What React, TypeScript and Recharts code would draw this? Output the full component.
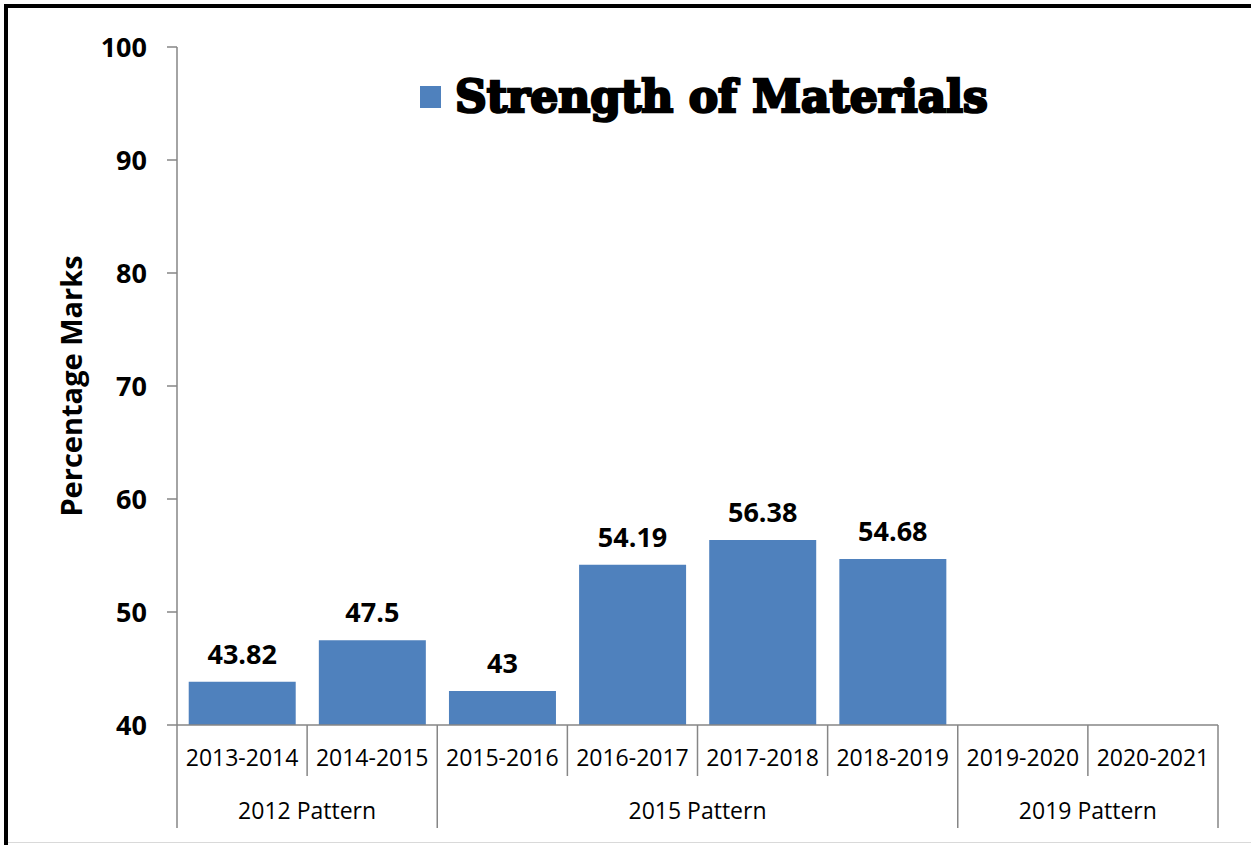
import React from "react";
import { Bar, BarChart, LabelList, Label, XAxis, YAxis } from "recharts";

const years = [
  "2013-2014",
  "2014-2015",
  "2015-2016",
  "2016-2017",
  "2017-2018",
  "2018-2019",
  "2019-2020",
  "2020-2021",
];
const marks: (number | null)[] = [43.82, 47.5, 43, 54.19, 56.38, 54.68, null, null];
const patterns = ["2012 Pattern", "2015 Pattern", "2019 Pattern"];
const patternSpans = [2, 4, 2];
const yTicks = [40, 50, 60, 70, 80, 90, 100];
const seriesName = "Strength of Materials";

const data = years.map((year, i) => ({ year, marks: marks[i] }));

const W = 1251;
const H = 845;
const PLOT_LEFT = 177;
const PLOT_RIGHT = 1218;
const PLOT_TOP = 47;
const PLOT_BOTTOM = 725;
const BAND = (PLOT_RIGHT - PLOT_LEFT) / years.length;
const AXIS = "#868686";
const BLUE = "#4F81BD";
const FONT = "'Open Sans', 'Noto Sans', sans-serif";

// index of first category in each pattern group
const groupStarts = patternSpans.map((_, g) =>
  patternSpans.slice(0, g).reduce((a, b) => a + b, 0)
);

function YearTick(props: any) {
  const { x, y, payload, index } = props;
  const left = x - BAND / 2;
  const g = groupStarts.indexOf(index);
  const isLast = index === years.length - 1;
  return (
    <g>
      <text x={x} y={y + 41} textAnchor="middle" fontSize={23} fill="#000" fontFamily={FONT}>
        {payload.value}
      </text>
      <line x1={left} x2={left} y1={y} y2={y + (g >= 0 ? 103 : 51)} stroke={AXIS} strokeWidth={1.5} />
      {isLast && (
        <line x1={left + BAND} x2={left + BAND} y1={y} y2={y + 103} stroke={AXIS} strokeWidth={1.5} />
      )}
      {g >= 0 && (
        <text
          x={left + (patternSpans[g] * BAND) / 2}
          y={y + 94}
          textAnchor="middle"
          fontSize={23}
          fill="#000"
          fontFamily={FONT}
        >
          {patterns[g]}
        </text>
      )}
    </g>
  );
}

export default function App() {
  return (
    <div style={{ position: "absolute", left: 0, top: 0, width: W, height: H, background: "#fff" }}>
      <div style={{ position: "absolute", left: 4, top: 4, right: 0, height: 4, background: "#000" }} />
      <div style={{ position: "absolute", left: 4, top: 4, width: 4, bottom: 0, background: "#000" }} />
      <div style={{ position: "absolute", left: 8, right: 0, top: 842, height: 1, background: "#d9d9d9" }} />
      <BarChart
        width={W}
        height={H}
        data={data}
        margin={{ top: PLOT_TOP, right: W - PLOT_RIGHT, bottom: 0, left: 0 }}
        barCategoryGap="9%"
      >
        <XAxis
          dataKey="year"
          height={H - PLOT_BOTTOM}
          interval={0}
          tickLine={false}
          tickSize={0}
          tickMargin={0}
          axisLine={{ stroke: AXIS, strokeWidth: 1.5 }}
          tick={<YearTick />}
        />
        <YAxis
          width={PLOT_LEFT}
          domain={[40, 100]}
          ticks={yTicks}
          allowDataOverflow
          tickSize={10}
          tickMargin={20}
          axisLine={{ stroke: AXIS, strokeWidth: 1.5 }}
          tickLine={{ stroke: AXIS, strokeWidth: 1.5 }}
          tick={{ fontSize: 27, fontWeight: 700, fill: "#000", fontFamily: FONT }}
        >
          <Label
            content={(p: any) => {
              const vb = p.viewBox;
              const cx = 70;
              const cy = vb.y + vb.height / 2;
              return (
                <text
                  x={cx}
                  y={cy}
                  transform={`rotate(-90, ${cx}, ${cy})`}
                  textAnchor="middle"
                  dominantBaseline="central"
                  fontSize={29}
                  fontWeight={700}
                  fontFamily={FONT}
                  fill="#000"
                >
                  Percentage Marks
                </text>
              );
            }}
          />
        </YAxis>
        <Bar dataKey="marks" name={seriesName} fill={BLUE} isAnimationActive={false}>
          <LabelList
            dataKey="marks"
            position="top"
            offset={18}
            fontSize={27}
            fontWeight={700}
            fill="#000"
            fontFamily={FONT}
          />
        </Bar>
      </BarChart>
      <div style={{ position: "absolute", left: 420, top: 72, display: "flex", alignItems: "center" }}>
        <span style={{ width: 21, height: 22, background: BLUE, display: "inline-block", marginRight: 14 }} />
        <span
          style={{
            fontFamily: "'DejaVu Serif', serif",
            fontWeight: 900,
            fontSize: 44,
            color: "#000",
            WebkitTextStroke: "2.5px #000",
            letterSpacing: 0,
            lineHeight: "50px",
            whiteSpace: "nowrap",
          }}
        >
          {seriesName}
        </span>
      </div>
    </div>
  );
}
